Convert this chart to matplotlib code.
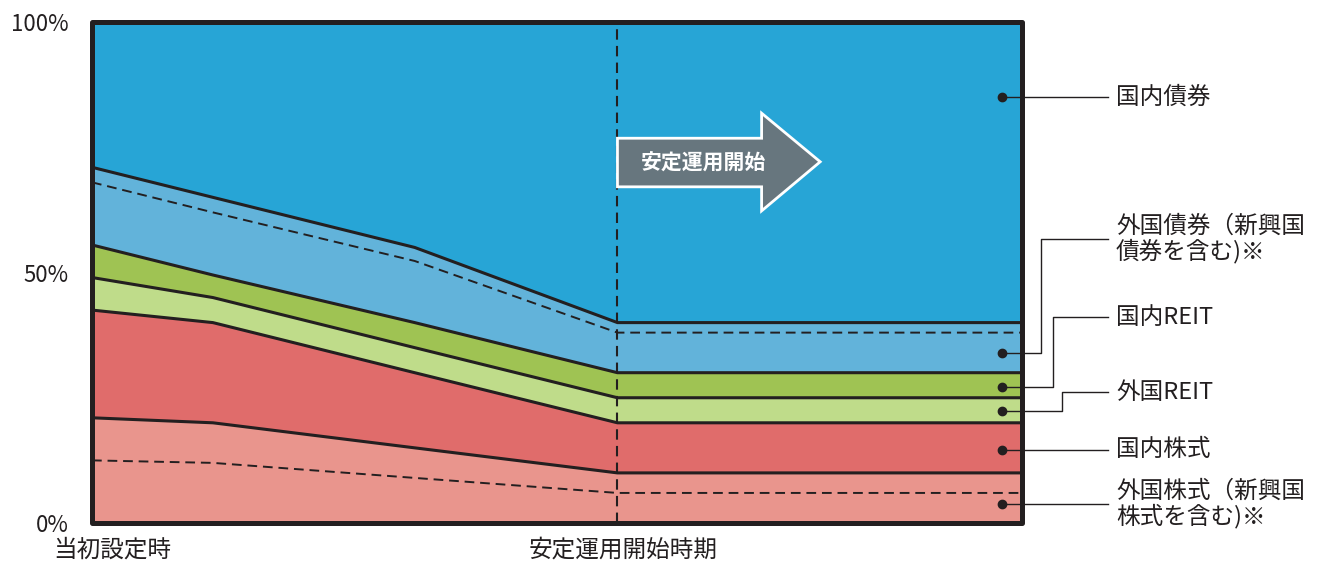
import numpy as np
import matplotlib.pyplot as plt
from matplotlib.patches import Polygon, Rectangle

plt.rcParams['font.family'] = ['Noto Sans CJK JP', 'DejaVu Sans']

# 時点（当初設定時 -> 安定運用開始時期 -> 以降）
periods = [0.0, 0.130, 0.347, 0.565, 1.0]

# 各資産の配分比率(%)  下から積み上げ
assets = ['外国株式', '国内株式', '外国REIT', '国内REIT', '外国債券', '国内債券']
w_foreign_eq = [21, 20, 15, 10, 10]
w_domestic_eq = [21.5, 20, 15, 10, 10]
w_foreign_reit = [6.5, 5, 5, 5, 5]
w_domestic_reit = [6.5, 4.5, 5, 5, 5]
w_foreign_bond = [15.5, 15.5, 15, 10, 10]
w_domestic_bond = [29, 35, 45, 60, 60]

# 新興国分（破線）
em_equity = [12.5, 12, 9, 6, 6]
em_bond = [12.5, 12.5, 12.3, 8, 8]

colors = ['#E9958D', '#E06C6B', '#BFDC8A', '#9FC353', '#62B3DA', '#27A5D6']
labels = ['外国株式（新興国\n株式を含む)※', '国内株式', '外国REIT', '国内REIT',
          '外国債券（新興国\n債券を含む)※', '国内債券']

dark = '#231F20'

fig = plt.figure(figsize=(13.22, 5.62), dpi=100)
ax = fig.add_axes([92 / 1322, 39 / 562, 930 / 1322, 501 / 562])

x = np.array(periods)
weights = [w_foreign_eq, w_domestic_eq, w_foreign_reit, w_domestic_reit,
           w_foreign_bond, w_domestic_bond]
bottom = np.zeros(len(x))
bands = []
for w, c in zip(weights, colors):
    top = bottom + np.array(w)
    ax.fill_between(x, bottom, top, color=c, lw=0, zorder=1)
    bands.append((bottom.copy(), top.copy()))
    if top[0] < 99.9:
        ax.plot(x, top, color=dark, lw=2.2, zorder=3, solid_joinstyle='round')
    bottom = top

# 新興国の破線
ax.plot(x, bands[0][0] + np.array(em_equity), color=dark, lw=1.4,
        ls=(0, (5, 3)), zorder=3)
ax.plot(x, bands[4][0] + np.array(em_bond), color=dark, lw=1.4,
        ls=(0, (5, 3)), zorder=3)

# 安定運用開始時期の縦破線
ax.axvline(periods[3], color=dark, lw=1.5, ls=(0, (5, 3)), zorder=4)

# 矢印
arrow_pts = [(0.565, 76.8), (0.720, 76.8), (0.720, 81.8), (0.783, 72.1),
             (0.720, 62.3), (0.720, 67.1), (0.565, 67.1)]
ax.add_patch(Polygon(arrow_pts, closed=True, facecolor='#67767E',
                     edgecolor='white', lw=2, zorder=5))
ax.text(0.657, 71.9, '安定運用開始', color='white', fontsize=15,
        fontweight='bold', ha='center', va='center', zorder=6)

ax.set_xlim(0, 1)
ax.set_ylim(0, 100)
for s in ax.spines.values():
    s.set_visible(False)
ax.add_patch(Rectangle((0, 0), 1, 1, transform=ax.transAxes, fill=False,
                       edgecolor=dark, lw=3.6, joinstyle='round',
                       clip_on=False, zorder=10))

ax.set_yticks([0, 50, 100], ['0%', '50%', '100%'])
ax.set_xticks([])
ax.tick_params(axis='y', length=0, pad=17, labelsize=16, labelcolor=dark)

ax.text(-0.042, -0.054, '当初設定時', transform=ax.transAxes, fontsize=17,
        color=dark, ha='left', va='center')
ax.text(periods[3] + 0.006, -0.054, '安定運用開始時期', transform=ax.get_xaxis_transform(),
        fontsize=17, color=dark, ha='center', va='center')

# 右側ラベル
dot_x = 0.978
label_x = 1.092
text_x = 1.101
elbow_x = [None, None, 1.043, 1.033, 1.020, None]
label_y = [3.8, 14.6, 26.1, 41.1, 56.7, 85.0]
dot_y = [3.8, 14.6, 22.3, 27.2, 33.9, 85.0]
for i in range(len(assets)):
    ax.plot(dot_x, dot_y[i], 'o', color=dark, ms=6, zorder=7)
    if elbow_x[i] is None:
        xs = [dot_x, label_x]
        ys = [dot_y[i], dot_y[i]]
    else:
        xs = [dot_x, elbow_x[i], elbow_x[i], label_x]
        ys = [dot_y[i], dot_y[i], label_y[i], label_y[i]]
    ax.plot(xs, ys, color=dark, lw=1.0, clip_on=False, zorder=7)
    ax.text(text_x, label_y[i], labels[i], fontsize=17, color=dark,
            ha='left', va='center', linespacing=1.05)

fig.savefig('out.png', dpi=100)
